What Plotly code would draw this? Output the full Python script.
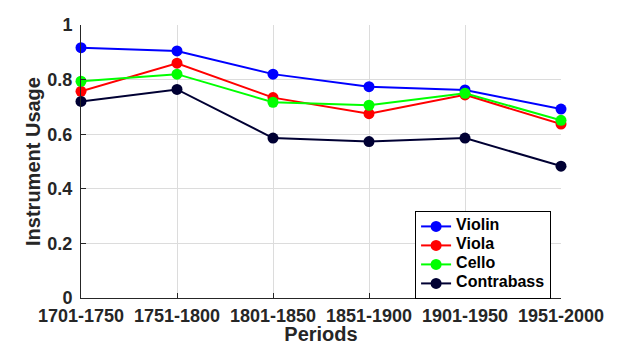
import plotly.graph_objects as go

periods = ["1701-1750", "1751-1800", "1801-1850", "1851-1900", "1901-1950", "1951-2000"]
violin = [0.917, 0.905, 0.820, 0.774, 0.762, 0.692]
viola = [0.757, 0.860, 0.734, 0.675, 0.744, 0.637]
cello = [0.794, 0.820, 0.717, 0.706, 0.750, 0.651]
contrabass = [0.720, 0.764, 0.586, 0.573, 0.586, 0.483]

series = [
    ("Violin", violin, "#0000ff"),
    ("Viola", viola, "#ff0000"),
    ("Cello", cello, "#00ff00"),
    ("Contrabass", contrabass, "#000033"),
]

FONT = "Liberation Sans, Arial, Helvetica, sans-serif"
AXIS = "#262626"
GRID = "#dcdcdc"

x_idx = list(range(len(periods)))

fig = go.Figure()
for name, vals, color in series:
    fig.add_trace(go.Scatter(
        x=x_idx, y=vals, name=f"<span style='font-size:16px'>{name}</span>",
        mode="lines+markers",
        line=dict(color=color, width=2),
        marker=dict(color=color, size=11),
        cliponaxis=False,
    ))

fig.update_layout(
    width=620, height=345,
    margin=dict(l=80.5, r=59, t=25, b=47, autoexpand=False),
    paper_bgcolor="white", plot_bgcolor="white",
    font=dict(family=FONT, color=AXIS, weight="bold"),
    showlegend=True,
    legend=dict(
        x=0.696, y=0.319, xanchor="left", yanchor="top",
        bgcolor="white", bordercolor="black", borderwidth=1,
        font=dict(family=FONT, size=10, color="black", weight="bold"),
        itemwidth=30, tracegroupgap=0,
    ),
)

fig.update_xaxes(
    range=[0, 5], tickvals=x_idx, ticktext=periods,
    automargin=False,
    showline=True, linecolor=AXIS, linewidth=1,
    showgrid=True, gridcolor=GRID, gridwidth=1,
    ticks="inside", ticklen=5, tickcolor=AXIS, tickwidth=1,
    tickfont=dict(size=18, color=AXIS, family=FONT, weight="bold"),
    zeroline=False,
    ticklabelstandoff=1,
    title=dict(text="Periods", font=dict(size=20, color=AXIS, family=FONT, weight="bold"), standoff=3),
)
fig.update_yaxes(
    range=[0, 1], tickvals=[0, 0.2, 0.4, 0.6, 0.8, 1],
    ticktext=["0", "0.2", "0.4", "0.6", "0.8", "1"],
    automargin=False,
    showline=True, linecolor=AXIS, linewidth=1,
    showgrid=True, gridcolor=GRID, gridwidth=1,
    ticks="inside", ticklen=5, tickcolor=AXIS, tickwidth=1,
    tickfont=dict(size=18, color=AXIS, family=FONT, weight="bold"),
    zeroline=False,
    ticklabelstandoff=4,
    title=dict(text="Instrument Usage", font=dict(size=20, color=AXIS, family=FONT, weight="bold"), standoff=1),
)

fig.write_html("out.html")
